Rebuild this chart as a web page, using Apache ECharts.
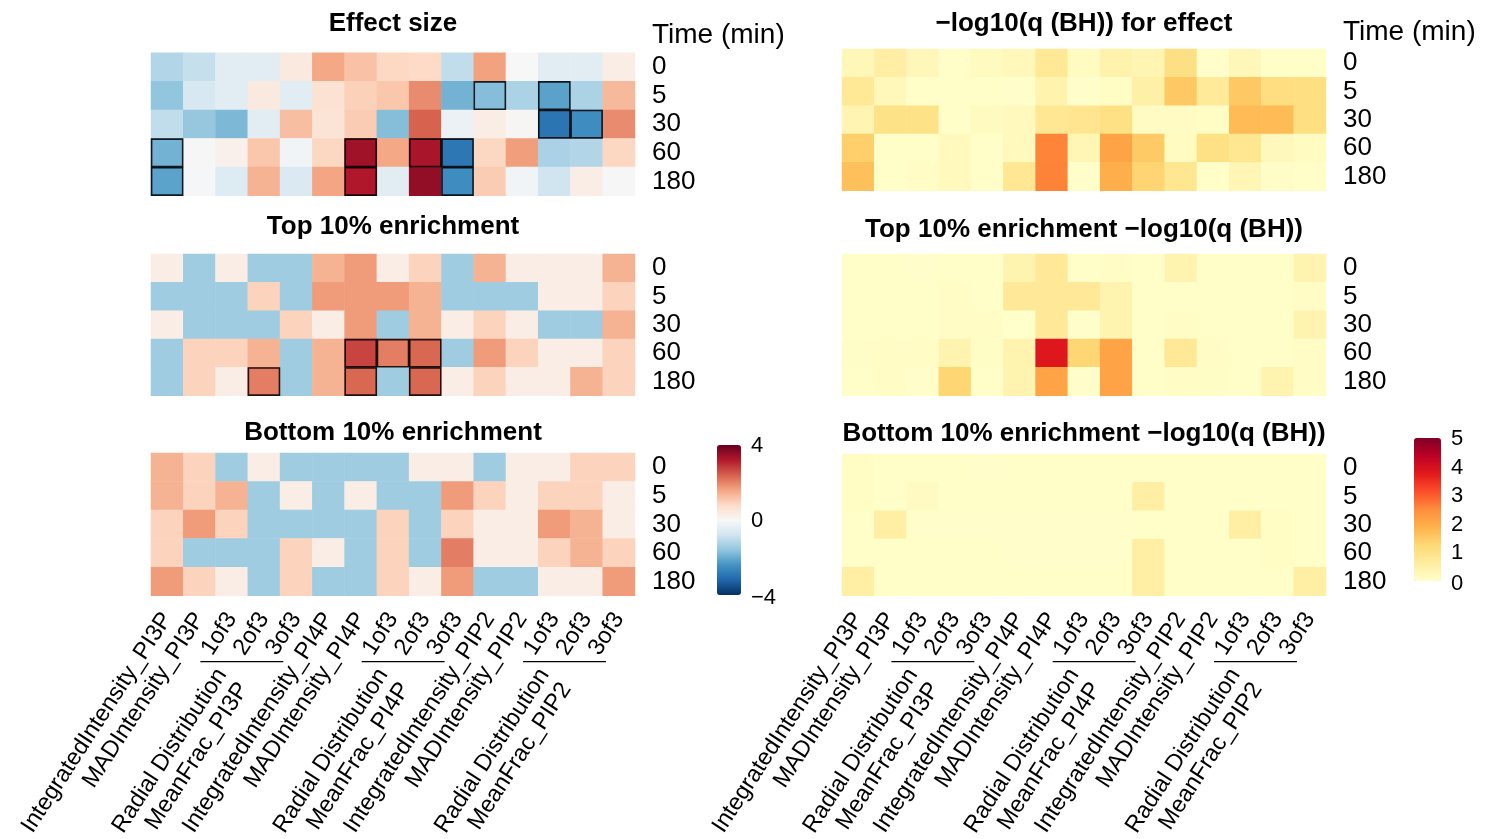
<!DOCTYPE html>
<html><head><meta charset="utf-8">
<script src="https://cdn.jsdelivr.net/npm/echarts@6/dist/echarts.min.js"></script>
<style>html,body{margin:0;padding:0;background:#fff}#c{width:1485px;height:839px}</style>
</head><body><div id="c"></div>
<script>
// ---------- DATA ----------
const times = ['0', '5', '30', '60', '180'];
const columns = ['IntegratedIntensity_PI3P', 'MADIntensity_PI3P', 'RadialDistribution_MeanFrac_PI3P_1of3', 'RadialDistribution_MeanFrac_PI3P_2of3', 'RadialDistribution_MeanFrac_PI3P_3of3',
  'IntegratedIntensity_PI4P', 'MADIntensity_PI4P', 'RadialDistribution_MeanFrac_PI4P_1of3', 'RadialDistribution_MeanFrac_PI4P_2of3', 'RadialDistribution_MeanFrac_PI4P_3of3',
  'IntegratedIntensity_PIP2', 'MADIntensity_PIP2', 'RadialDistribution_MeanFrac_PIP2_1of3', 'RadialDistribution_MeanFrac_PIP2_2of3', 'RadialDistribution_MeanFrac_PIP2_3of3'];
const tickLabels = ['IntegratedIntensity_PI3P', 'MADIntensity_PI3P', '1of3', '2of3', '3of3',
  'IntegratedIntensity_PI4P', 'MADIntensity_PI4P', '1of3', '2of3', '3of3',
  'IntegratedIntensity_PIP2', 'MADIntensity_PIP2', '1of3', '2of3', '3of3'];
const groupSpans = [[2, 4], [7, 9], [12, 14]];
const groupLabels = ['Radial Distribution\nMeanFrac_PI3P', 'Radial Distribution\nMeanFrac_PI4P', 'Radial Distribution\nMeanFrac_PIP2'];
const panelTitles = ['Effect size', 'Top 10% enrichment', 'Bottom 10% enrichment',
  '\u2212log10(q (BH)) for effect', 'Top 10% enrichment \u2212log10(q (BH))', 'Bottom 10% enrichment \u2212log10(q (BH))'];
const axisTitle = 'Time (min)';
const effectTicks = [4, 0, -4];
const qTicks = [5, 4, 3, 2, 1, 0];

// rows: time 0, 5, 30, 60, 180 ; columns as above
const effectSize = [
  [-1.2, -0.95, -0.45, -0.45, 0.4, 1.56, 1.17, 0.83, 0.8, -1.0, 1.63, 0.0, -0.45, -0.45, 0.3],
  [-1.6, -0.65, -0.45, 0.4, -0.45, 0.6, 0.95, 1.1, 1.9, -1.9, -1.73, -1.28, -2.16, -1.28, 1.3],
  [-1.0, -1.55, -1.81, -0.45, 1.23, 0.55, 1.02, -1.72, 2.38, -0.25, 0.3, 0.05, -2.94, -2.52, 1.9],
  [-1.9, 0.02, 0.2, 1.1, -0.15, 0.85, 3.4, 1.55, 3.3, -2.9, 0.85, 1.68, -1.3, -1.2, 0.85],
  [-2.15, -0.05, -0.55, 1.4, -0.6, 1.58, 3.22, -0.45, 3.55, -2.5, 1.02, -0.15, -0.8, 0.3, 0.02]
];
const top10 = [
  [0.29, -1.42, 0.29, -1.42, -1.42, 1.39, 1.7, 0.29, 0.92, -1.42, 1.39, 0.29, 0.29, 0.29, 1.39],
  [-1.42, -1.42, -1.42, 0.92, -1.42, 1.7, 1.7, 1.7, 1.39, -1.42, -1.42, -1.42, 0.29, 0.29, 0.92],
  [0.29, -1.42, -1.42, -1.42, 0.92, 0.29, 1.7, -1.42, 1.39, 0.29, 0.92, 0.29, -1.42, -1.42, 1.39],
  [-1.42, 0.92, 0.92, 1.39, -1.42, 1.39, 2.71, 2.06, 2.31, -1.42, 1.7, 0.92, 0.29, 0.29, 0.92],
  [-1.42, 0.92, 0.29, 2.06, -1.42, 1.39, 2.31, -1.42, 2.31, 0.29, 0.92, 0.29, 0.29, 1.39, 0.92]
];
const bottom10 = [
  [1.39, 0.92, -1.42, 0.29, -1.42, -1.42, -1.42, -1.42, 0.29, 0.29, -1.42, 0.29, 0.29, 0.92, 0.92],
  [1.39, 0.92, 1.39, -1.42, 0.29, -1.42, 0.29, -1.42, -1.42, 1.7, 0.92, 0.29, 0.92, 0.92, 0.29],
  [0.92, 1.7, 0.92, -1.42, -1.42, -1.42, -1.42, 0.92, -1.42, 0.92, 0.29, 0.29, 1.7, 1.39, 0.29],
  [0.92, -1.42, -1.42, -1.42, 0.92, 0.29, -1.42, 0.92, -1.42, 2.05, 0.29, 0.29, 0.92, 1.39, 0.92],
  [1.7, 0.92, 0.29, -1.42, 0.92, -1.42, -1.42, 0.92, 0.29, 1.7, -1.42, -1.42, 0.29, 0.29, 1.7]
];
const qEffect = [
  [0.28, 0.58, 0.27, 0.05, 0.18, 0.25, 0.76, 0.15, 0.44, 0.35, 1.04, 0.03, 0.27, 0.05, 0.06],
  [0.76, 0.26, 0.05, 0.05, 0.05, 0.03, 0.43, 0.03, 0.11, 0.52, 1.52, 0.72, 1.52, 1.1, 1.07],
  [0.37, 0.98, 0.98, 0.05, 0.18, 0.2, 0.82, 0.86, 1.03, 0.14, 0.14, 0.11, 1.73, 1.73, 1.07],
  [1.41, 0.05, 0.05, 0.21, 0.05, 0.22, 2.59, 0.32, 2.11, 1.49, 0.15, 1.03, 0.85, 0.23, 0.15],
  [1.65, 0.05, 0.1, 0.2, 0.05, 0.8, 2.6, 0.03, 1.94, 1.31, 0.85, 0.05, 0.32, 0.07, 0.05]
];
const qTop10 = [
  [0.05, 0.05, 0.03, 0.05, 0.05, 0.4, 0.75, 0.05, 0.1, 0.05, 0.4, 0.05, 0.05, 0.04, 0.4],
  [0.06, 0.06, 0.06, 0.1, 0.05, 0.75, 0.75, 0.75, 0.4, 0.05, 0.06, 0.06, 0.04, 0.04, 0.1],
  [0.06, 0.06, 0.06, 0.1, 0.09, 0.01, 0.75, 0.03, 0.4, 0.05, 0.1, 0.06, 0.05, 0.05, 0.4],
  [0.07, 0.09, 0.09, 0.4, 0.08, 0.4, 3.83, 1.3, 2.11, 0.05, 0.78, 0.09, 0.05, 0.05, 0.1],
  [0.05, 0.09, 0.03, 1.3, 0.05, 0.4, 2.11, 0.03, 2.11, 0.05, 0.09, 0.08, 0.05, 0.4, 0.1]
];
const qBottom10 = [
  [0.12, 0.06, 0.06, 0.04, 0.03, 0.04, 0.04, 0.04, 0.04, 0.04, 0.04, 0.04, 0.04, 0.04, 0.04],
  [0.12, 0.05, 0.16, 0.04, 0.04, 0.04, 0.04, 0.04, 0.04, 0.55, 0.04, 0.04, 0.05, 0.05, 0.05],
  [0.05, 0.55, 0.03, 0.03, 0.03, 0.03, 0.03, 0.03, 0.03, 0.04, 0.04, 0.04, 0.55, 0.12, 0.05],
  [0.05, 0.05, 0.04, 0.04, 0.04, 0.03, 0.03, 0.03, 0.03, 0.55, 0.04, 0.04, 0.05, 0.12, 0.05],
  [0.55, 0.05, 0.06, 0.04, 0.04, 0.04, 0.04, 0.04, 0.04, 0.55, 0.05, 0.05, 0.05, 0.05, 0.55]
];
// significant cells (outlined)
const sigEffect = [
  [0,0,0,0,0,0,0,0,0,0,0,0,0,0,0],
  [0,0,0,0,0,0,0,0,0,0,1,0,1,0,0],
  [0,0,0,0,0,0,0,0,0,0,0,0,1,1,0],
  [1,0,0,0,0,0,1,0,1,1,0,0,0,0,0],
  [1,0,0,0,0,0,1,0,0,1,0,0,0,0,0]
];
const sigTop10 = [
  [0,0,0,0,0,0,0,0,0,0,0,0,0,0,0],
  [0,0,0,0,0,0,0,0,0,0,0,0,0,0,0],
  [0,0,0,0,0,0,0,0,0,0,0,0,0,0,0],
  [0,0,0,0,0,0,1,1,1,0,0,0,0,0,0],
  [0,0,0,1,0,0,1,0,1,0,0,0,0,0,0]
];

// ---------- STYLE / LAYOUT ----------
const FONT = '"Liberation Sans", Arial, Helvetica, sans-serif';
const RdBu = ['#053061','#2166ac','#4393c3','#92c5de','#d1e5f0','#f7f7f7','#fddbc7','#f4a582','#d6604d','#b2182b','#67001f'];
const YlOrRd = ['#ffffcc','#ffeda0','#fed976','#feb24c','#fd8d3c','#fc4e2a','#e31a1c','#bd0026','#800026'];
const layout = [
  {left: 151, top: 52.7, height: 143, titleY: 24},
  {left: 151, top: 254, height: 141.7, titleY: 227},
  {left: 151, top: 453, height: 142.7, titleY: 433},
  {left: 842, top: 49, height: 141.7, titleY: 24},
  {left: 842, top: 254, height: 141.7, titleY: 230},
  {left: 842, top: 454, height: 141.7, titleY: 434}
];
const GW = 484;
const LABEL_ROT = 57;
const LABEL_SIZE = 23.5;
const panelValues = [effectSize, top10, bottom10, qEffect, qTop10, qBottom10];
const panelSig = [sigEffect, sigTop10, null, null, null, null];
const yCats = times.slice().reverse();

const chart = echarts.init(document.getElementById('c'));

const grids = layout.map(l => ({left: l.left, top: l.top, width: GW, height: l.height, containLabel: false, outerBoundsMode: 'none'}));
const xAxes = layout.map((l, i) => {
  const bottom = (i === 2 || i === 5);
  return {
    type: 'category', gridIndex: i, data: columns,
    axisLine: {show: false}, axisTick: {show: false}, splitLine: {show: false},
    axisLabel: bottom ? {
      show: true, interval: 0, rotate: LABEL_ROT, margin: 19, fontSize: LABEL_SIZE, fontFamily: FONT, color: '#000',
      align: 'right', verticalAlign: 'middle', hideOverlap: false,
      formatter: (v, idx) => tickLabels[idx]
    } : {show: false}
  };
});
const yAxes = layout.map((l, i) => {
  const top = (i === 0 || i === 3);
  return {
    type: 'category', gridIndex: i, data: yCats, position: 'right',
    axisLine: {show: false}, axisTick: {show: false}, splitLine: {show: false},
    axisLabel: {interval: 0, fontSize: 26, fontFamily: FONT, color: '#000', margin: 17},
    name: top ? axisTitle : '', nameLocation: 'end', nameGap: 3,
    nameTextStyle: {fontSize: 28, fontFamily: FONT, color: '#000', align: 'left', verticalAlign: 'bottom', padding: [0, 0, 0, 17]}
  };
});

const series = [];
panelValues.forEach((vals, i) => {
  const data = [];
  vals.forEach((row, r) => row.forEach((v, c) => data.push([c, yCats.indexOf(times[r]), v])));
  series.push({type: 'heatmap', xAxisIndex: i, yAxisIndex: i, data, itemStyle: {borderWidth: 0}, emphasis: {disabled: true}, silent: true, progressive: 0});
});
panelSig.forEach((sig, i) => {
  if (!sig) return;
  const data = [];
  sig.forEach((row, r) => row.forEach((s, c) => { if (s) data.push([c, yCats.indexOf(times[r])]); }));
  series.push({
    type: 'custom', xAxisIndex: i, yAxisIndex: i, data, z: 5, silent: true, clip: false,
    renderItem: (params, api) => {
      const p = api.coord([api.value(0), api.value(1)]);
      const s = api.size([1, 1]);
      return {type: 'rect', shape: {x: p[0] - s[0] / 2 + 0.6, y: p[1] - s[1] / 2 + 0.6, width: s[0] - 1.2, height: s[1] - 1.2},
        style: {fill: 'none', stroke: '#000', lineWidth: 1.6, opacity: 0.85}};
    }
  });
});
[2, 5].forEach(i => {
  series.push({
    type: 'custom', xAxisIndex: i, yAxisIndex: i, clip: false, silent: true, z: 5,
    data: groupSpans.map((s, k) => [s[0], 0, s[1], k]),
    encode: {x: 0, y: 1},
    renderItem: (params, api) => {
      const a = api.coord([api.value(0), 0]);
      const b = api.coord([api.value(2), 0]);
      const s = api.size([1, 1]);
      const w = s[0];
      const yb = a[1] + s[1] / 2;
      const mid = (a[0] + b[0]) / 2;
      return {type: 'group', children: [
        {type: 'line', shape: {x1: a[0] - 0.97 * w, y1: yb + 66, x2: b[0] - 0.4 * w, y2: yb + 66}, style: {stroke: '#000', lineWidth: 1.3}},
        {type: 'text', x: mid - 1.65 * w, y: yb + 68, rotation: LABEL_ROT * Math.PI / 180,
          style: {text: groupLabels[api.value(3)], align: 'right', verticalAlign: 'top', fontSize: LABEL_SIZE, fontFamily: FONT, fill: '#000', lineHeight: 26}}
      ]};
    }
  });
});

const graphic = [];
panelTitles.forEach((t, i) => {
  graphic.push({type: 'text', x: layout[i].left + GW / 2, y: layout[i].titleY,
    style: {text: t, align: 'center', verticalAlign: 'middle', fontSize: 26, fontWeight: 'bold', fontFamily: FONT, fill: '#000'}});
});
const cb = [
  {left: 717, top: 445, w: 24, h: 150, min: -4, max: 4, ticks: effectTicks, colors: RdBu, series: [0, 1, 2]},
  {left: 1414, top: 438, w: 27, h: 143, min: 0, max: 5, ticks: qTicks, colors: YlOrRd, series: [3, 4, 5]}
];
cb.forEach(c => c.ticks.forEach(t => {
  graphic.push({type: 'text', x: c.left + c.w + 10, y: c.top + (c.max - t) / (c.max - c.min) * c.h + (t === c.min ? 3 : (t === c.max ? 1 : 1)),
    style: {text: t < 0 ? '\u2212' + Math.abs(t) : String(t), align: 'left', verticalAlign: 'middle', fontSize: 22, fontFamily: FONT, fill: '#000'}});
}));

chart.setOption({
  animation: false,
  backgroundColor: '#fff',
  grid: grids, xAxis: xAxes, yAxis: yAxes,
  visualMap: cb.map(c => ({
    type: 'continuous', min: c.min, max: c.max, seriesIndex: c.series, dimension: 2,
    inRange: {color: c.colors}, calculable: false, orient: 'vertical', hoverLink: false,
    left: c.left, top: c.top, itemWidth: c.w, itemHeight: c.h, padding: 0, text: null, showLabel: false
  })),
  series, graphic
});
</script></body></html>
